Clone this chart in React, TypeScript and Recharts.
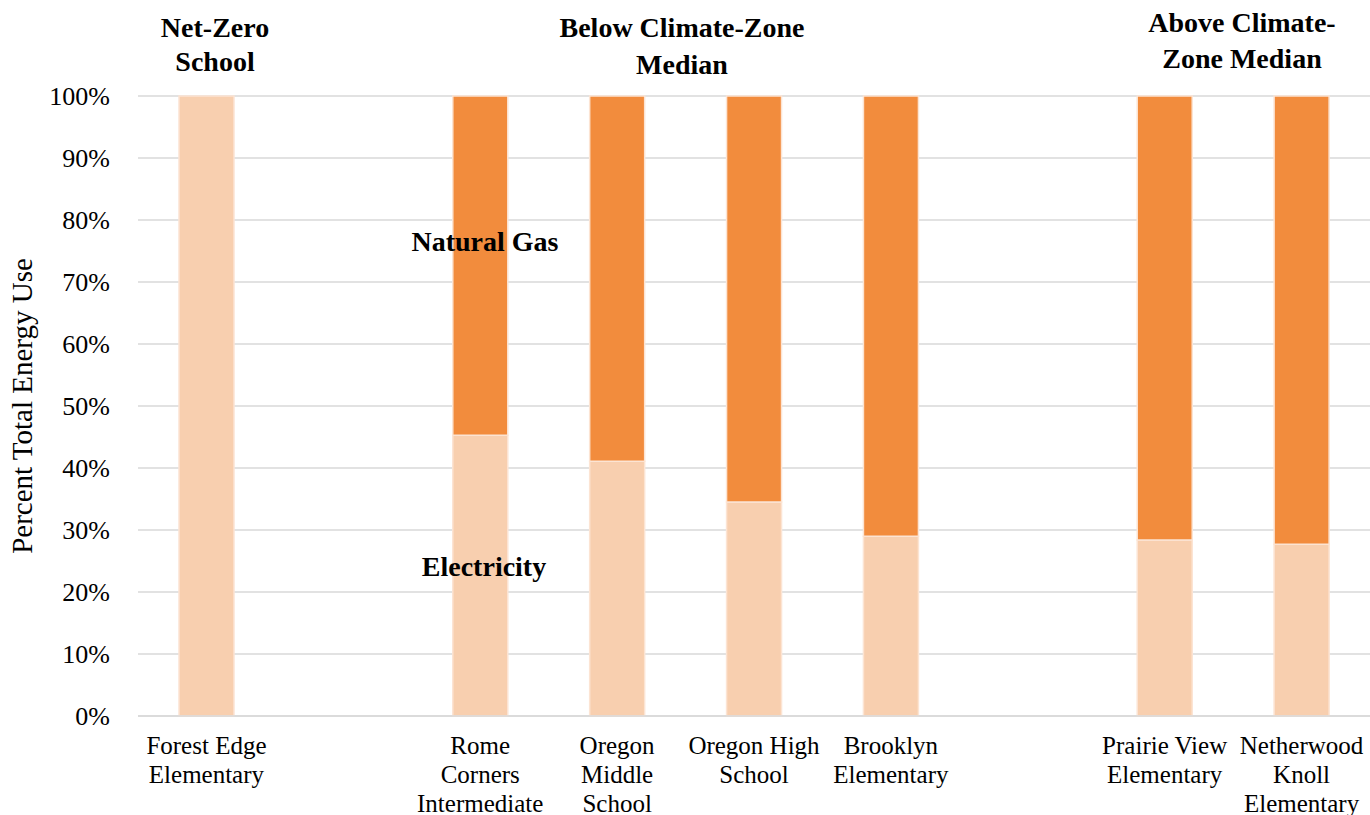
import React from 'react';
import { BarChart, Bar, XAxis, YAxis, CartesianGrid } from 'recharts';

const categories = ['Forest Edge Elementary', 'gap1', 'Rome Corners Intermediate', 'Oregon Middle School', 'Oregon High School', 'Brooklyn Elementary', 'gap2', 'Prairie View Elementary', 'Netherwood Knoll Elementary'];
const tickLines: string[][] = [
  ['Forest Edge', 'Elementary'],
  [],
  ['Rome', 'Corners', 'Intermediate'],
  ['Oregon', 'Middle', 'School'],
  ['Oregon High', 'School'],
  ['Brooklyn', 'Elementary'],
  [],
  ['Prairie View', 'Elementary'],
  ['Netherwood', 'Knoll', 'Elementary'],
];
const electricity: (number | null)[] = [100, null, 45.3, 41.1, 34.5, 29.0, null, 28.4, 27.7];
const naturalGas: (number | null)[] = [0, null, 54.7, 58.9, 65.5, 71.0, null, 71.6, 72.3];
const yTicks = [0, 10, 20, 30, 40, 50, 60, 70, 80, 90, 100];

const data = categories.map((c, i) => ({ name: c, electricity: electricity[i], gas: naturalGas[i] }));

const FONT = '"Liberation Serif", "Times New Roman", serif';

const XTick = (props: any) => {
  const { x, y, payload } = props;
  const i = categories.indexOf(payload.value);
  const lines = i >= 0 ? tickLines[i] : [];
  return (
    <g>
      {lines.map((l, k) => (
        <text key={k} x={x} y={y + 30 + k * 29} textAnchor="middle" fontFamily={FONT} fontSize={25} fill="#000">{l}</text>
      ))}
    </g>
  );
};

const Annotations = () => (
  <svg width={1370} height={815} style={{ position: 'absolute', left: 0, top: 0, pointerEvents: 'none' }}>
    <g fontFamily={FONT} fill="#000">
      <text x={215} y={37} textAnchor="middle" fontSize={28} fontWeight="bold">Net-Zero</text>
      <text x={215} y={71} textAnchor="middle" fontSize={28} fontWeight="bold">School</text>
      <text x={682} y={37} textAnchor="middle" fontSize={28} fontWeight="bold">Below Climate-Zone</text>
      <text x={682} y={74} textAnchor="middle" fontSize={28} fontWeight="bold">Median</text>
      <text x={1242} y={32} textAnchor="middle" fontSize={28} fontWeight="bold">Above Climate-</text>
      <text x={1242} y={68} textAnchor="middle" fontSize={28} fontWeight="bold">Zone Median</text>
      <text x={485} y={251} textAnchor="middle" fontSize={28} fontWeight="bold">Natural Gas</text>
      <text x={484} y={576} textAnchor="middle" fontSize={28} fontWeight="bold">Electricity</text>
      <text x={0} y={0} transform="translate(32,406) rotate(-90)" textAnchor="middle" fontSize={29}>Percent Total Energy Use</text>
    </g>
  </svg>
);

export default function App() {
  return (
    <div style={{ position: 'absolute', left: 0, top: 0, width: 1370, height: 815, background: '#fff' }}>
      <BarChart width={1370} height={815} data={data} margin={{ top: 96, right: 0, bottom: 0, left: 0 }} barSize={55}>
        <CartesianGrid vertical={false} stroke="#D9D9D9" strokeWidth={1.5} />
        <XAxis dataKey="name" tick={<XTick />} tickLine={false} axisLine={{ stroke: '#D9D9D9', strokeWidth: 1.5 }} interval={0} height={99} />
        <YAxis domain={[0, 100]} ticks={yTicks} tickFormatter={(v: number) => `${v}%`} width={138} axisLine={false} tickLine={false} tickSize={0} tickMargin={28} tick={{ fontFamily: FONT, fontSize: 26, fill: '#000' }} />
        <Bar dataKey="electricity" stackId="a" fill="#F8CFAF" stroke="#FCE4D3" strokeWidth={1.5} isAnimationActive={false} />
        <Bar dataKey="gas" stackId="a" fill="#F28C3D" stroke="#FCE4D3" strokeWidth={1.5} isAnimationActive={false} />
      </BarChart>
      <Annotations />
    </div>
  );
}
